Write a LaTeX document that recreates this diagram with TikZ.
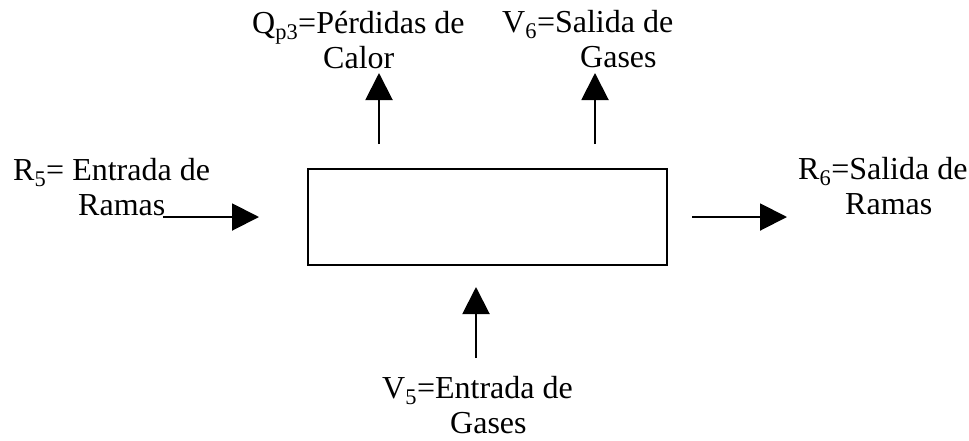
\documentclass[tikz,border=0pt]{standalone}
\usepackage{fontspec}
\setmainfont{Liberation Serif}
\usetikzlibrary{arrows.meta}
\tikzset{
  lbl/.style={inner sep=0pt, anchor=base west, align=left, font=\fontsize{32}{35}\selectfont},
  flow/.style={line width=2pt, -{Triangle[length=27pt,width=27pt]}},
  procbox/.style={draw, line width=1.8pt, minimum width=359pt, minimum height=96pt, inner sep=0pt}
}
\begin{document}
\begin{tikzpicture}[x=1pt,y=-1pt]
\useasboundingbox (0,0) rectangle (969,440);
% process box
\node[procbox] (box) at (487.5,217) {};
% labels (anchored at the baseline of their last line)
\node[lbl] (qp3) at (252,68) {Q\textsubscript{p3}=Pérdidas de\\\hspace*{71pt}Calor};
\node[lbl] (v6) at (502,67) {V\textsubscript{6}=Salida de\\\hspace*{78pt}Gases};
\node[lbl] (r5) at (13,215) {R\textsubscript{5}= Entrada de\\\hspace*{65pt}Ramas};
\node[lbl] (r6) at (798,214) {R\textsubscript{6}=Salida de\\\hspace*{47pt}Ramas};
\node[lbl] (v5) at (382,433) {V\textsubscript{5}=Entrada de\\\hspace*{68pt}Gases};
% arrow end points
\coordinate (inA) at (163,217);
\coordinate (inB) at (259,217);
\coordinate (outA) at (692,217);
\coordinate (outB) at (787,217);
\coordinate (qA) at (379,144);
\coordinate (qB) at (379,73);
\coordinate (gA) at (595,144);
\coordinate (gB) at (595,73);
\coordinate (vA) at (476,358);
\coordinate (vB) at (476,287);
% arrows
\draw[flow] (inA) -- (inB);
\draw[flow] (outA) -- (outB);
\draw[flow] (qA) -- (qB);
\draw[flow] (gA) -- (gB);
\draw[flow] (vA) -- (vB);
\end{tikzpicture}
\end{document}
